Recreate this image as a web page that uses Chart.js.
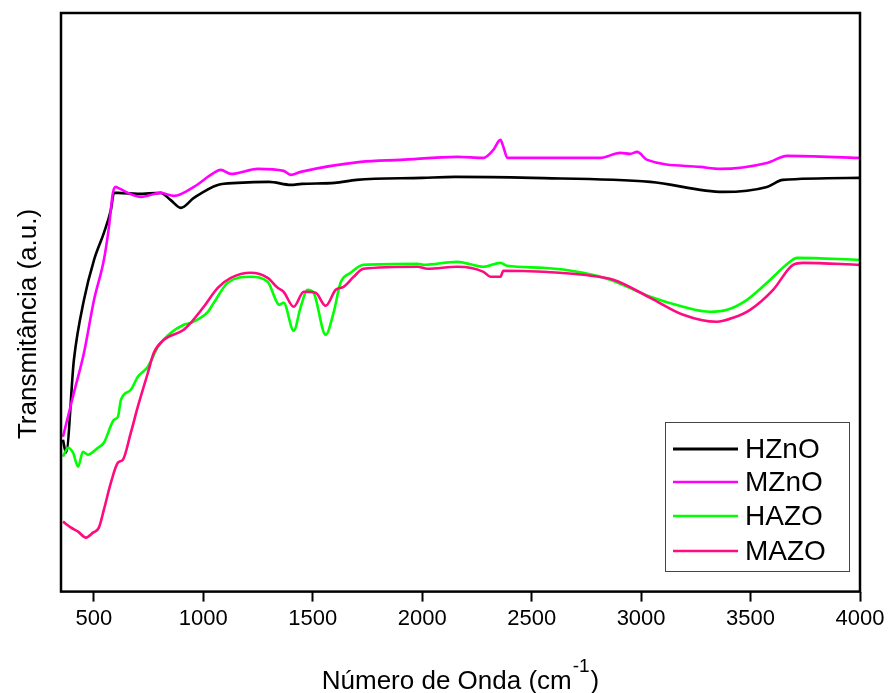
<!DOCTYPE html>
<html>
<head>
<meta charset="utf-8">
<script src="https://cdn.jsdelivr.net/npm/chart.js@4.4.1/dist/chart.umd.min.js"></script>
<style>
  html, body { margin: 0; padding: 0; background: #fff; }
  #wrap { width: 889px; height: 693px; }
</style>
</head>
<body>
<div id="wrap"><canvas id="ftirChart" width="889" height="693"></canvas></div>
<script>
const seriesNames = ['HZnO', 'MZnO', 'HAZO', 'MAZO'];
const seriesColors = ['#000000', '#ff00ff', '#00ff00', '#ff0a7f'];
const xTicks = [500, 1000, 1500, 2000, 2500, 3000, 3500, 4000];

// wavenumber (cm-1) and transmittance (a.u.)
const hznoWn = [359, 373, 409, 455, 501, 546, 578, 592, 610, 700, 806, 850, 897, 957, 1066, 1157, 1300, 1400, 1450, 1600, 1700, 2000, 2150, 2500, 3042, 3375, 3575, 3648, 4000];
const hznoT  = [15.2, 13.9, 23.2, 29.2, 33.2, 35.9, 38.2, 39.9, 39.9, 39.8, 39.9, 39.2, 38.4, 39.4, 40.7, 40.9, 41.0, 40.7, 40.8, 40.9, 41.2, 41.4, 41.5, 41.4, 41.0, 40.0, 40.5, 41.2, 41.4];

const mznoWn = [359, 409, 455, 501, 546, 569, 587, 600, 610, 715, 806, 866, 957, 1048, 1080, 1126, 1249, 1367, 1399, 1445, 1719, 1901, 2161, 2280, 2325, 2357, 2371, 2389, 2813, 2905, 2950, 2982, 3028, 3270, 3361, 3575, 3667, 4000];
const mznoT  = [15.5, 19.9, 23.9, 29.2, 33.2, 36.5, 39.9, 40.5, 40.4, 39.5, 39.9, 39.6, 40.5, 41.9, 42.2, 41.8, 42.3, 42.1, 41.7, 42.0, 43.0, 43.2, 43.5, 43.4, 44.2, 45.2, 44.5, 43.4, 43.4, 43.9, 43.8, 44.0, 43.2, 42.5, 42.3, 42.9, 43.6, 43.4];

const hazoWn = [359, 382, 405, 428, 450, 473, 519, 546, 592, 610, 624, 669, 701, 747, 793, 852, 911, 943, 1021, 1048, 1112, 1217, 1294, 1331, 1345, 1367, 1413, 1445, 1477, 1504, 1559, 1595, 1627, 1673, 1732, 1979, 2006, 2161, 2280, 2357, 2389, 2553, 2736, 2859, 3042, 3192, 3315, 3393, 3484, 3575, 3680, 3712, 4000];
const hazoT  = [13.5, 14.4, 13.9, 12.5, 14.0, 13.7, 14.4, 14.9, 17.2, 17.5, 19.2, 20.2, 21.5, 22.5, 24.5, 25.9, 26.7, 26.9, 28.0, 28.9, 30.9, 31.5, 31.0, 29.2, 28.7, 28.9, 26.1, 28.5, 30.2, 29.9, 25.7, 27.9, 30.9, 31.9, 32.7, 32.8, 32.7, 33.0, 32.5, 32.9, 32.6, 32.4, 31.9, 31.2, 29.5, 28.5, 28.0, 28.2, 29.2, 30.9, 33.0, 33.4, 33.2];

const mazoWn = [359, 396, 428, 464, 496, 523, 546, 578, 610, 633, 669, 701, 747, 774, 820, 911, 943, 1002, 1066, 1126, 1217, 1294, 1340, 1367, 1413, 1459, 1513, 1559, 1605, 1641, 1687, 1732, 1979, 2024, 2161, 2280, 2312, 2357, 2371, 2553, 2736, 2873, 3042, 3192, 3345, 3420, 3498, 3603, 3694, 3740, 4000];
const mazoT  = [7.0, 6.4, 6.0, 5.4, 5.9, 6.4, 8.2, 10.9, 12.9, 13.2, 15.9, 18.5, 21.9, 23.9, 25.2, 26.2, 26.9, 28.5, 30.4, 31.4, 31.9, 31.4, 30.4, 30.0, 28.5, 30.0, 29.9, 28.6, 30.2, 30.5, 31.5, 32.3, 32.5, 32.3, 32.5, 32.0, 31.5, 31.5, 32.1, 32.0, 31.7, 31.2, 29.4, 27.7, 27.0, 27.4, 28.2, 30.2, 32.7, 32.9, 32.7];

const toPoints = (wn, t) => wn.map((w, i) => ({ x: w, y: t[i] }));
const seriesData = [
  toPoints(hznoWn, hznoT),
  toPoints(mznoWn, mznoT),
  toPoints(hazoWn, hazoT),
  toPoints(mazoWn, mazoT)
];

const FONT = '"Liberation Sans", Arial, sans-serif';

// frame, axis titles and the boxed legend
const framePlugin = {
  id: 'framePlugin',
  afterDraw(chart) {
    const { ctx, chartArea: { top, bottom, left, right } } = chart;
    ctx.save();
    ctx.strokeStyle = '#000';
    ctx.lineWidth = 2.5;
    ctx.strokeRect(left, top, right - left, bottom - top);

    // x title with superscript
    ctx.fillStyle = '#000';
    ctx.textBaseline = 'alphabetic';
    const mainTxt = 'Número de Onda (cm';
    const supTxt = '-1';
    const endTxt = ')';
    ctx.font = '26px ' + FONT;
    const w1 = ctx.measureText(mainTxt).width;
    const w3 = ctx.measureText(endTxt).width;
    ctx.font = '19px ' + FONT;
    const w2 = ctx.measureText(supTxt).width;
    const total = w1 + w2 + w3 + 2;
    const x0 = (left + right) / 2 - total / 2;
    const base = 689;
    ctx.textAlign = 'left';
    ctx.font = '26px ' + FONT;
    ctx.fillText(mainTxt, x0, base);
    ctx.font = '19px ' + FONT;
    ctx.fillText(supTxt, x0 + w1 + 1, base - 17);
    ctx.font = '26px ' + FONT;
    ctx.fillText(endTxt, x0 + w1 + w2 + 2, base);

    // y title
    ctx.save();
    ctx.translate(36, 324);
    ctx.rotate(-Math.PI / 2);
    ctx.textAlign = 'center';
    ctx.font = '26px ' + FONT;
    ctx.fillText('Transmitância (a.u.)', 0, 0);
    ctx.restore();

    // legend box
    const bx = 665, by = 422, bw = 184, bh = 149;
    ctx.fillStyle = '#fff';
    ctx.fillRect(bx, by, bw, bh);
    ctx.strokeStyle = '#444';
    ctx.lineWidth = 1;
    ctx.strokeRect(bx + 0.5, by + 0.5, bw, bh);
    const rows = [449, 482, 516, 551];
    ctx.font = '28px ' + FONT;
    ctx.textAlign = 'left';
    ctx.textBaseline = 'middle';
    seriesNames.forEach((name, i) => {
      ctx.strokeStyle = seriesColors[i];
      ctx.lineWidth = i === 0 ? 3 : 2.5;
      ctx.beginPath();
      ctx.moveTo(673, rows[i]);
      ctx.lineTo(738, rows[i]);
      ctx.stroke();
      ctx.fillStyle = '#000';
      ctx.fillText(name, 745, rows[i] + 1);
    });
    ctx.restore();
  }
};

const ctx = document.getElementById('ftirChart').getContext('2d');

new Chart(ctx, {
  type: 'line',
  data: {
    datasets: seriesNames.map((name, i) => ({
      label: name,
      data: seriesData[i],
      borderColor: seriesColors[i],
      borderWidth: 2.6,
      pointRadius: 0,
      fill: false,
      cubicInterpolationMode: 'monotone',
      order: 4 - i
    }))
  },
  options: {
    responsive: false,
    animation: false,
    layout: { padding: { top: 13, left: 61, right: 29, bottom: 57 } },
    scales: {
      x: {
        type: 'linear',
        min: 350,
        max: 4000,
        afterBuildTicks: axis => { axis.ticks = xTicks.map(v => ({ value: v })); },
        ticks: {
          color: '#000',
          padding: 4,
          maxRotation: 0,
          callback: v => String(v),
          font: { size: 22, family: FONT }
        },
        grid: { drawOnChartArea: false, tickColor: '#000', tickLength: 10, tickWidth: 2 },
        border: { display: false }
      },
      y: {
        display: false,
        min: 0,
        max: 57.9
      }
    },
    plugins: {
      legend: { display: false },
      tooltip: { enabled: false }
    }
  },
  plugins: [framePlugin]
});
</script>
</body>
</html>
